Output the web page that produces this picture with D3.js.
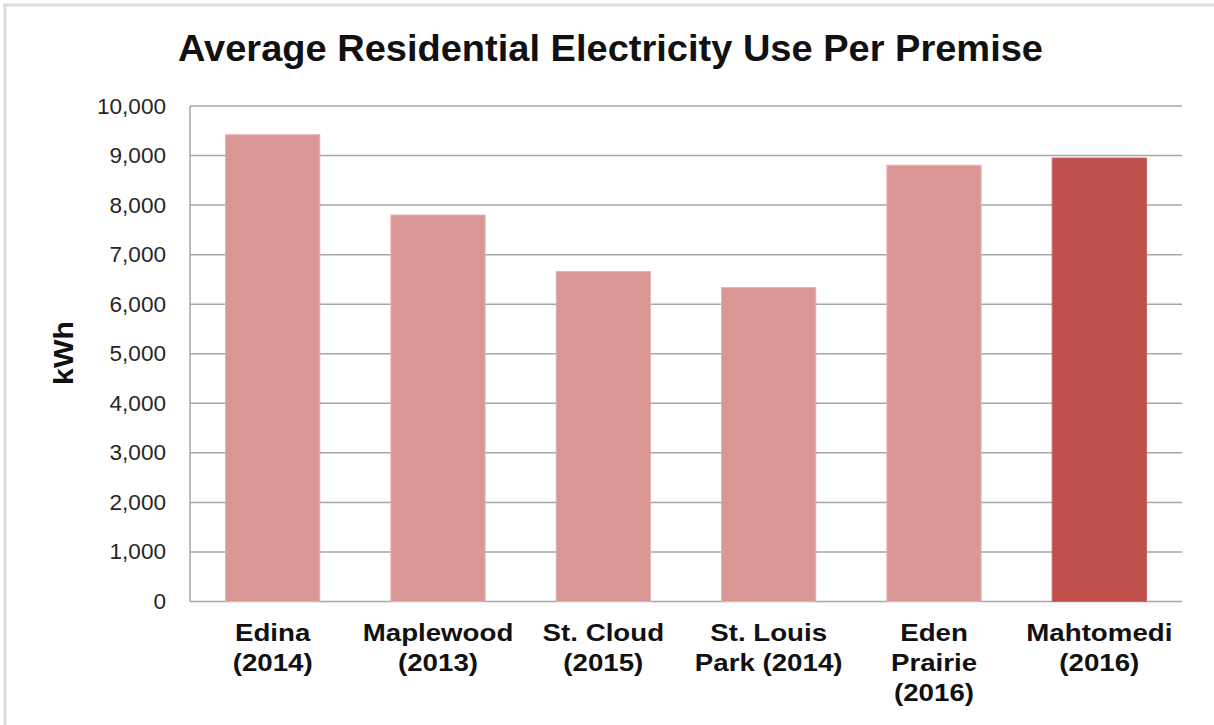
<!DOCTYPE html>
<html>
<head>
<meta charset="utf-8">
<script src="https://cdn.jsdelivr.net/npm/d3@7"></script>
<style>
  html, body { margin: 0; padding: 0; background: #fff; }
  svg { display: block; }
</style>
</head>
<body>
<svg id="chart" width="1214" height="725"></svg>
<script>
const categories = [
  ["Edina", "(2014)"],
  ["Maplewood", "(2013)"],
  ["St. Cloud", "(2015)"],
  ["St. Louis", "Park (2014)"],
  ["Eden", "Prairie", "(2016)"],
  ["Mahtomedi", "(2016)"]
];
const values = [9420, 7800, 6660, 6335, 8805, 8950];
const highlight = [false, false, false, false, false, true];
const yTicks = [0, 1000, 2000, 3000, 4000, 5000, 6000, 7000, 8000, 9000, 10000];
const title = "Average Residential Electricity Use Per Premise";
const yLabel = "kWh";

(function () {
const svg = d3.select("#chart");
const W = 1214, H = 725;
const pLeft = 190, pRight = 1182, pTop = 106, pBottom = 601.5;

svg.append("rect").attr("width", W).attr("height", H).attr("fill", "#fff");
// outer frame (top & left)
svg.append("line").attr("x1", 3).attr("x2", W).attr("y1", 5).attr("y2", 5)
  .attr("stroke", "#dcdcdc").attr("stroke-width", 3);
svg.append("line").attr("x1", 5).attr("x2", 5).attr("y1", 4).attr("y2", H)
  .attr("stroke", "#dcdcdc").attr("stroke-width", 3);

const keys = categories.map(c => c.join(" "));
const x = d3.scaleBand().domain(keys).range([pLeft, pRight])
  .paddingInner(0.43).paddingOuter(0.215);
const y = d3.scaleLinear().domain([0, 10000]).range([pBottom, pTop]);

// gridlines
svg.append("g").selectAll("line").data(yTicks).join("line")
  .attr("x1", pLeft).attr("x2", pRight)
  .attr("y1", d => y(d)).attr("y2", d => y(d))
  .attr("stroke", "#a6a6a6").attr("stroke-width", 1.5);

// y axis line
svg.append("line").attr("x1", pLeft).attr("x2", pLeft).attr("y1", pTop).attr("y2", pBottom)
  .attr("stroke", "#a6a6a6").attr("stroke-width", 1.5);

// bars
svg.append("g").selectAll("rect").data(values).join("rect")
  .attr("x", (d, i) => x(keys[i]))
  .attr("width", x.bandwidth())
  .attr("y", d => y(d))
  .attr("height", d => y(0) - y(d))
  .attr("fill", (d, i) => highlight[i] ? "#c0504d" : "#d99694")
  .attr("stroke", (d, i) => highlight[i] ? "#c9625f" : "#e5b3b1")
  .attr("stroke-width", 1);

// y tick labels
const fmt = d3.format(",");
svg.append("g").selectAll("text").data(yTicks).join("text")
  .attr("transform", d => `translate(166,${y(d) + 7.5}) scale(1.05,1)`)
  .attr("text-anchor", "end")
  .attr("font-family", "Liberation Sans, Arial, sans-serif")
  .attr("font-size", 21.5)
  .attr("fill", "#262626")
  .text(d => fmt(d));

// category labels
const catG = svg.append("g");
categories.forEach((lines, i) => {
  const cx = x(keys[i]) + x.bandwidth() / 2;
  lines.forEach((ln, j) => {
    catG.append("text")
      .attr("transform", `translate(${cx},${641 + j * 30}) scale(1.13,1)`)
      .attr("text-anchor", "middle")
      .attr("font-family", "Liberation Sans, Arial, sans-serif")
      .attr("font-weight", "bold")
      .attr("font-size", 24.5)
      .attr("fill", "#111")
      .text(ln);
  });
});

// y label
svg.append("text")
  .attr("transform", "translate(73,353) rotate(-90) scale(1.12,1)")
  .attr("text-anchor", "middle")
  .attr("font-family", "Liberation Sans, Arial, sans-serif")
  .attr("font-weight", "bold")
  .attr("font-size", 27)
  .attr("fill", "#111")
  .text(yLabel);

// title
svg.append("text")
  .attr("x", 610.5).attr("y", 61)
  .attr("text-anchor", "middle")
  .attr("font-family", "Liberation Sans, Arial, sans-serif")
  .attr("font-weight", "bold")
  .attr("font-size", 37)
  .attr("textLength", 865)
  .attr("lengthAdjust", "spacingAndGlyphs")
  .attr("fill", "#111")
  .text(title);
})();
</script>
</body>
</html>
